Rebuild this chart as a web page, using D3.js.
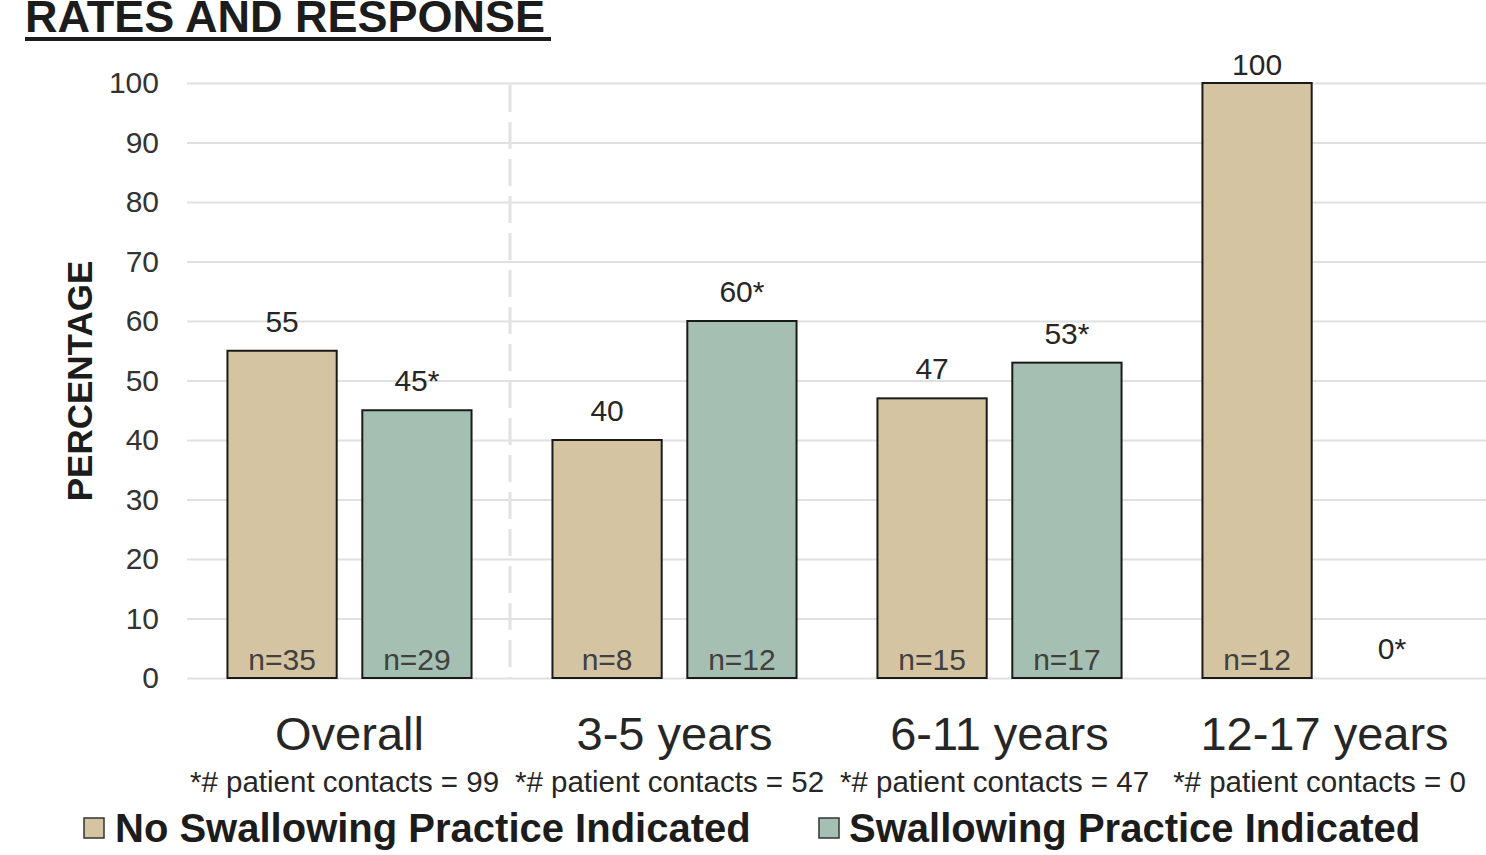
<!DOCTYPE html>
<html>
<head>
<meta charset="utf-8">
<script src="https://cdn.jsdelivr.net/npm/d3@7"></script>
<style>
  html, body { margin: 0; padding: 0; background: #fff; }
  svg { display: block; font-family: "Liberation Sans", Arial, sans-serif; }
</style>
</head>
<body>
<svg id="chart" width="1486" height="855"></svg>
<script>
// Age groups shown along the x axis
const categories = ["Overall", "3-5 years", "6-11 years", "12-17 years"];
// Number of patient contacts behind the starred values of each group
const patientContacts = [99, 52, 47, 0];
// Percentages per group
const noPracticePct = [55, 40, 47, 100];
const practicePct = [45, 60, 53, 0];
// Sample sizes written at the foot of each bar
const noPracticeN = [35, 8, 15, 12];
const practiceN = [29, 12, 17, null];
// Y axis ticks
const yTicks = [0, 10, 20, 30, 40, 50, 60, 70, 80, 90, 100];

const seriesNames = ["No Swallowing Practice Indicated", "Swallowing Practice Indicated"];
const seriesColors = ["#d5c4a1", "#a5bfb2"];

const svg = d3.select("#chart");
const W = 1486;
const plotLeft = 187, plotRight = 1487, plotTop = 83, plotBottom = 678;

const x0 = d3.scaleBand().domain(categories).range([plotLeft, plotRight]).padding(0);
const x1 = d3.scaleBand().domain([0, 1]).range([0, x0.bandwidth()])
  .paddingInner(0.19).paddingOuter(0.3);
const y = d3.scaleLinear().domain([0, 100]).range([plotBottom, plotTop]);

// Title (runs past the top edge of the page)
svg.append("text")
  .attr("x", 25).attr("y", 32)
  .attr("font-size", 45).attr("font-weight", "bold").attr("fill", "#1c1c1c")
  .text("RATES AND RESPONSE");
svg.append("rect")
  .attr("x", 25).attr("y", 37).attr("width", 526).attr("height", 4)
  .attr("fill", "#1c1c1c");

// Horizontal gridlines and tick labels
const yAxis = d3.axisLeft(y).tickValues(yTicks).tickSize(-(W - plotLeft)).tickPadding(28);
const gy = svg.append("g").attr("transform", `translate(${plotLeft},0)`).call(yAxis);
gy.select(".domain").remove();
gy.selectAll(".tick line").attr("stroke", "#e0e0e0").attr("stroke-width", 2);
gy.selectAll(".tick text")
  .attr("font-size", 30).attr("fill", "#333")
  .attr("font-family", "'Liberation Sans', Arial, sans-serif");

// Dashed separator between the overall group and the age groups
const sepX = x0(categories[1]) - 2;
svg.append("line")
  .attr("x1", sepX).attr("x2", sepX)
  .attr("y1", y(100) + 2).attr("y2", y(0))
  .attr("stroke", "#e2e2e2").attr("stroke-width", 3)
  .attr("stroke-dasharray", "27,10");

// Y axis title
svg.append("text")
  .attr("transform", "translate(92,381) rotate(-90)")
  .attr("text-anchor", "middle")
  .attr("font-size", 35).attr("font-weight", "bold").attr("fill", "#1c1c1c")
  .text("PERCENTAGE");

// Bars
const rows = categories.map((c, i) => ({
  cat: c,
  vals: [
    { s: 0, v: noPracticePct[i], n: noPracticeN[i], star: false },
    { s: 1, v: practicePct[i], n: practiceN[i], star: true }
  ]
}));

const groups = svg.append("g").selectAll("g")
  .data(rows).join("g")
  .attr("transform", d => `translate(${x0(d.cat)},0)`);

groups.selectAll("rect")
  .data(d => d.vals.filter(b => b.v > 0))
  .join("rect")
  .attr("x", b => x1(b.s))
  .attr("width", x1.bandwidth())
  .attr("y", b => y(b.v))
  .attr("height", b => y(0) - y(b.v))
  .attr("fill", b => seriesColors[b.s])
  .attr("stroke", "#1a1a1a").attr("stroke-width", 2);

// Value labels above bars (kept inside the plot at the top)
groups.selectAll("text.val")
  .data(d => d.vals)
  .join("text").attr("class", "val")
  .attr("x", b => x1(b.s) + x1.bandwidth() / 2)
  .attr("y", b => Math.max(y(b.v) - 19, y(100) - 8))
  .attr("text-anchor", "middle")
  .attr("font-size", 30).attr("fill", "#262626")
  .text(b => b.v + (b.star ? "*" : ""));

// Sample size labels inside the bar bases
groups.selectAll("text.n")
  .data(d => d.vals.filter(b => b.n != null))
  .join("text").attr("class", "n")
  .attr("x", b => x1(b.s) + x1.bandwidth() / 2)
  .attr("y", y(0) - 8)
  .attr("text-anchor", "middle")
  .attr("font-size", 30).attr("fill", "#404040")
  .text(b => "n=" + b.n);

// Category labels and contact counts
categories.forEach((c, i) => {
  const cx = x0(c) + x0.bandwidth() / 2;
  svg.append("text")
    .attr("x", cx).attr("y", 750)
    .attr("text-anchor", "middle")
    .attr("font-size", 47).attr("fill", "#262626")
    .text(c);
  svg.append("text")
    .attr("x", cx - 5).attr("y", 792)
    .attr("text-anchor", "middle")
    .attr("font-size", 29.5).attr("fill", "#262626")
    .text("*# patient contacts = " + patientContacts[i]);
});

// Legend
const legendItems = [{ x: 84, tx: 115 }, { x: 819, tx: 849 }];
legendItems.forEach((l, i) => {
  svg.append("rect")
    .attr("x", l.x).attr("y", 818).attr("width", 20).attr("height", 20)
    .attr("fill", seriesColors[i]).attr("stroke", "#333").attr("stroke-width", 1.5);
  svg.append("text")
    .attr("x", l.tx).attr("y", 842)
    .attr("font-size", 40).attr("font-weight", "bold").attr("fill", "#1c1c1c")
    .text(seriesNames[i]);
});
</script>
</body>
</html>
